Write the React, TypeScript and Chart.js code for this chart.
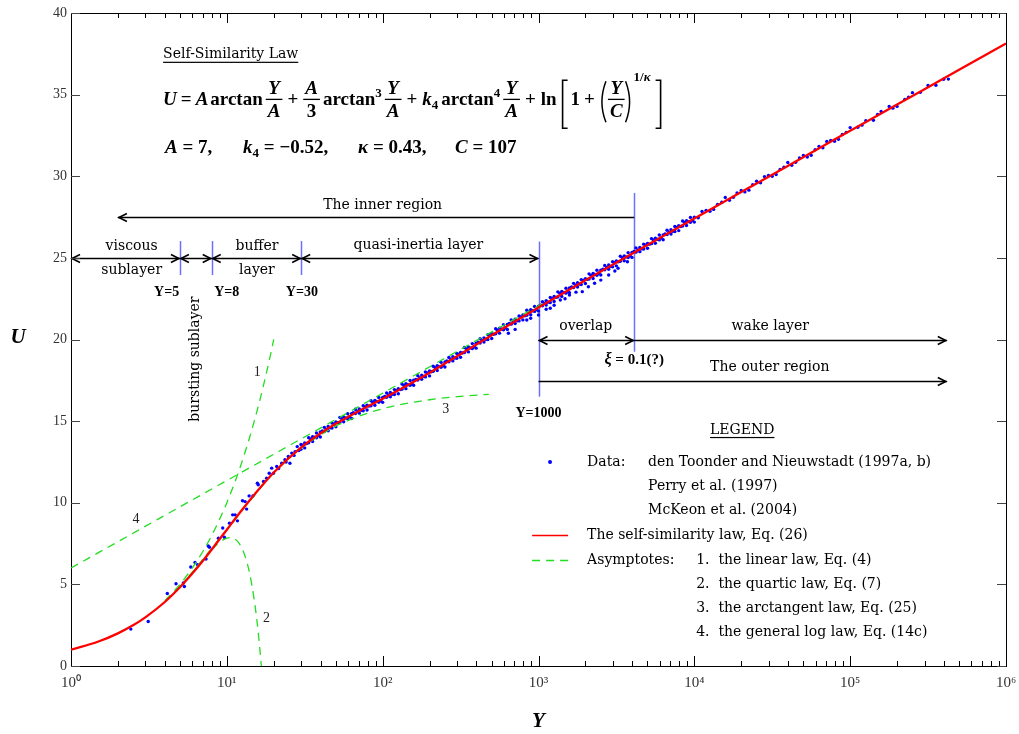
import React, { useEffect, useRef } from 'react';
import { Chart, registerables } from 'chart.js';

Chart.register(...registerables);

// ---------------- data ----------------
// Self-similarity law (red solid curve)
const redY = [1, 1.5, 2, 2.5, 3, 4, 5, 6, 7, 8, 10, 12, 15, 20, 30, 40, 50, 70, 100, 150, 200, 300, 500, 1000, 2000, 5000, 10000, 20000, 50000, 100000, 200000, 500000, 1000000];
const redU = [1.0, 1.5, 2.0, 2.49, 2.98, 3.92, 4.82, 5.66, 6.43, 7.14, 8.35, 9.34, 10.49, 11.85, 13.39, 14.26, 14.84, 15.61, 16.37, 17.29, 17.97, 18.98, 20.26, 21.96, 23.63, 25.79, 27.41, 29.03, 31.17, 32.78, 34.39, 36.52, 38.13];

// Asymptote 1: linear law
const asym1Y = [4, 5, 6, 7, 8, 9, 10, 11, 12, 13, 14, 15, 16, 17, 18, 19, 20];
const asym1U = [4, 5, 6, 7, 8, 9, 10, 11, 12, 13, 14, 15, 16, 17, 18, 19, 20];
// Asymptote 2: quartic law
const asym2Y = [4, 5, 6, 7, 8, 9, 10, 10.5, 11, 12, 13, 14, 15, 15.5, 16, 16.3, 16.65];
const asym2U = [3.94, 4.87, 5.72, 6.48, 7.11, 7.58, 7.83, 7.87, 7.83, 7.51, 6.81, 5.68, 4.04, 3.0, 1.81, 1.01, 0];
// Asymptote 3: arctangent law
const asym3Y = [5, 10, 20, 30, 50, 70, 100, 150, 200, 300, 480];
const asym3U = [4.82, 8.34, 11.83, 13.34, 14.69, 15.29, 15.76, 16.12, 16.31, 16.5, 16.64];
// Asymptote 4: general log law
const asym4Y = [1, 10, 100, 1000, 1100];
const asym4U = [6.0, 11.36, 16.71, 22.07, 22.29];

// Measured data (blue dots)
const dataBufferY = [2.42, 3.13, 4.15, 4.72, 5.26, 5.34, 5.87, 6.25, 6.5, 7.35, 7.6, 7.74, 8.83, 9.41, 9.64, 10.4, 10.9, 11.3, 11.7, 12.6, 13.1, 13.4, 13.9, 14.7, 15.7, 15.9, 17.2, 18.0, 18.7, 19.4, 19.9, 20.9, 21.5, 22.5, 23.6, 24.0, 24.8, 25.4, 26.1, 27.0, 27.4, 28.3, 29.0];
const dataBufferU = [2.26, 2.73, 4.44, 5.04, 5.08, 4.87, 6.06, 6.34, 6.2, 6.55, 7.35, 7.27, 7.83, 8.45, 7.89, 8.75, 9.26, 9.26, 8.89, 10.12, 10.07, 9.61, 10.42, 10.42, 11.2, 11.1, 11.3, 11.5, 11.81, 12.12, 11.81, 12.22, 12.1, 12.42, 12.63, 12.5, 12.83, 12.42, 13.04, 12.9, 13.13, 13.44, 13.2];

const dataBandY = [29.9, 31.6, 33.5, 35.5, 37.6, 39.8, 42.2, 44.7, 47.3, 50.1, 53.1, 56.2, 59.6, 63.1, 66.8, 70.8, 75.0, 79.4, 84.1, 89.1, 94.4, 100, 106, 112, 119, 126, 133, 141, 150, 158, 168, 178, 188, 200, 211, 224, 237, 251, 266, 282, 299, 316, 335, 355, 376, 398, 422, 447, 473, 501, 531, 562, 596, 631, 668, 708, 750, 794, 841, 891, 944, 1000, 1060, 1120, 1190, 1260, 1330, 1410, 1500, 1580, 1680, 1780, 1880, 2000, 2110, 2240, 2370, 2510, 2660, 2820, 2990, 3160, 3350, 3550, 3760, 3980, 4220, 4470, 4730, 5010, 5310, 5620, 5960, 6310, 6680, 7080, 7500, 7940, 8410, 8910, 9440, 10000];
const dataBandUpperU = [13.57, 13.66, 13.98, 14.05, 14.28, 14.33, 14.62, 14.67, 14.88, 14.95, 15.23, 15.26, 15.45, 15.46, 15.73, 15.75, 15.94, 15.98, 16.25, 16.27, 16.45, 16.45, 16.72, 16.75, 16.93, 16.98, 17.27, 17.29, 17.49, 17.5, 17.78, 17.82, 18.01, 18.07, 18.36, 18.4, 18.6, 18.62, 18.9, 18.95, 19.15, 19.21, 19.51, 19.54, 19.75, 19.77, 20.05, 20.1, 20.3, 20.36, 20.66, 20.69, 20.9, 20.92, 21.2, 21.24, 21.44, 21.5, 21.79, 21.82, 22.02, 22.04, 22.32, 22.37, 22.57, 22.63, 22.92, 22.94, 23.14, 23.16, 23.44, 23.48, 23.67, 23.73, 24.02, 24.04, 24.24, 24.25, 24.53, 24.56, 24.76, 24.81, 25.1, 25.12, 25.32, 25.33, 25.61, 25.64, 25.84, 25.89, 26.18, 26.2, 26.4, 26.41, 26.69, 26.72, 26.92, 26.97, 27.26, 27.28, 27.48, 27.49];
const dataBandLowerU = [13.27, 13.36, 13.67, 13.75, 13.98, 14.03, 14.36, 14.41, 14.58, 14.65, 14.92, 14.96, 15.15, 15.16, 15.47, 15.49, 15.64, 15.68, 15.94, 15.97, 16.15, 16.15, 16.46, 16.49, 16.63, 16.68, 16.96, 16.99, 17.19, 17.2, 17.52, 17.56, 17.71, 17.77, 18.05, 18.1, 18.3, 18.32, 18.64, 18.69, 18.85, 18.91, 19.2, 19.24, 19.45, 19.47, 19.79, 19.84, 20.0, 20.06, 20.35, 20.39, 20.6, 20.62, 20.94, 20.98, 21.14, 21.2, 21.48, 21.52, 21.72, 21.74, 22.06, 22.11, 22.27, 22.33, 22.61, 22.64, 22.84, 22.86, 23.18, 23.22, 23.37, 23.43, 23.71, 23.74, 23.94, 23.95, 24.27, 24.3, 24.46, 24.51, 24.79, 24.82, 25.02, 25.03, 25.35, 25.38, 25.54, 25.59, 25.87, 25.9, 26.1, 26.11, 26.43, 26.46, 26.62, 26.67, 26.95, 26.98, 27.18, 27.19];

const dataMidY = [30.7, 32.5, 34.5, 36.5, 38.7, 41.0, 43.4, 46.0, 48.7, 51.6, 54.6, 57.9, 61.3, 64.9, 68.8, 72.9, 77.2, 81.7, 86.6, 91.7, 97.2, 103, 109, 115, 122, 130, 137, 145, 154, 163, 173, 183, 194, 205, 217, 230, 244, 258, 274, 290, 307, 325, 345, 365, 387, 410, 434, 460, 487, 516, 546, 579, 613, 649, 688, 729, 772, 817, 866, 917, 972, 1030, 1090, 1150, 1220, 1300, 1370, 1450, 1540, 1630, 1730, 1830, 1940, 2050, 2170, 2300, 2440, 2590, 2740, 2900, 3070, 3250, 3450, 3650, 3870, 4100, 4340, 4600, 4870, 5160, 5460, 5790, 6130, 6490, 6880, 7290, 7720, 8170, 8660, 9170, 9720];
const dataMidU = [13.53, 13.63, 13.91, 14.01, 14.12, 14.4, 14.51, 14.59, 14.83, 14.9, 15.14, 15.2, 15.27, 15.52, 15.6, 15.66, 15.87, 15.92, 16.16, 16.2, 16.26, 16.51, 16.6, 16.65, 16.87, 16.93, 17.18, 17.23, 17.31, 17.56, 17.66, 17.73, 17.95, 18.02, 18.28, 18.34, 18.42, 18.68, 18.79, 18.86, 19.09, 19.17, 19.42, 19.49, 19.57, 19.83, 19.94, 20.01, 20.24, 20.32, 20.57, 20.64, 20.72, 20.98, 21.08, 21.15, 21.38, 21.45, 21.7, 21.76, 21.84, 22.1, 22.21, 22.28, 22.51, 22.58, 22.83, 22.88, 22.96, 23.22, 23.32, 23.39, 23.61, 23.68, 23.93, 23.98, 24.06, 24.31, 24.41, 24.47, 24.7, 24.76, 25.01, 25.06, 25.14, 25.39, 25.49, 25.55, 25.78, 25.84, 26.09, 26.14, 26.22, 26.47, 26.57, 26.63, 26.86, 26.92, 27.17, 27.22, 27.3];

const dataDipY = [641, 708, 841, 891, 1000, 1120, 1190, 1260, 1380, 1480, 1580, 1740, 1910, 2090, 2290, 2510, 2820, 3090, 3240, 3720];
const dataDipU = [20.38, 20.62, 21.19, 21.3, 21.5, 21.85, 21.91, 22.1, 22.42, 22.5, 22.72, 22.9, 22.93, 23.23, 23.45, 23.64, 23.95, 24.2, 24.36, 24.76];

const dataOuterY = [11200, 12600, 14100, 15800, 17800, 20000, 22400, 25100, 28200, 31600, 35500, 39800, 44700, 50100, 56200, 63100, 70800, 79400, 89100, 100000, 112000, 126000, 141000, 158000, 178000, 200000, 224000, 251000, 282000, 316000, 355000, 398000, 427000];
const dataOuterU = [27.84, 27.86, 28.28, 28.7, 28.71, 29.13, 29.15, 29.69, 29.98, 30.0, 30.42, 30.84, 30.85, 31.27, 31.29, 31.83, 32.13, 32.14, 32.56, 32.98, 33.0, 33.41, 33.43, 33.97, 34.27, 34.28, 34.7, 35.12, 35.14, 35.56, 35.57, 35.94, 35.95];
const dataOuter2Y = [10600, 11900, 13300, 15000, 16800, 18800, 21100, 23700, 26600, 29900, 33500, 37600, 42200, 47300, 53100, 59600, 66800, 75000, 84100, 94400, 119000, 150000, 188000, 237000];
const dataOuter2U = [27.46, 27.91, 27.97, 28.41, 28.53, 28.98, 29.04, 29.48, 29.6, 30.05, 30.11, 30.55, 30.67, 31.12, 31.18, 31.62, 31.74, 32.19, 32.26, 32.69, 33.13, 33.78, 34.17, 34.84];

// Axis ticks
const xMajorTicks = [1, 10, 100, 1000, 10000, 100000, 1000000];
const xTickLabels = ['10\u2070', '10\u00b9', '10\u00b2', '10\u00b3', '10\u2074', '10\u2075', '10\u2076'];
const xMinorFactors = [2, 3, 4, 5, 6, 7, 8, 9];
const yTickValues = [0, 5, 10, 15, 20, 25, 30, 35, 40];

// ---------------- annotations (data coordinates) ----------------
const markerLines = [
  { y: 5, u0: 23.95, u1: 26.03 },
  { y: 8, u0: 23.95, u1: 26.03 },
  { y: 30, u0: 23.95, u1: 26.03 },
  { y: 1000, u0: 16.5, u1: 26.0 },
  { y: 4110, u0: 19.25, u1: 28.98 },
];
const arrows = [
  { y0: 2.0, y1: 4110, u: 27.52, h0: true, h1: false },
  { y0: 1, y1: 5, u: 25.0, h0: true, h1: true },
  { y0: 5, y1: 8, u: 25.0, h0: true, h1: true },
  { y0: 8, y1: 30, u: 25.0, h0: true, h1: true },
  { y0: 30, y1: 1000, u: 25.0, h0: true, h1: true },
  { y0: 1000, y1: 4110, u: 19.97, h0: true, h1: true },
  { y0: 4110, y1: 417000, u: 19.97, h0: false, h1: true },
  { y0: 1000, y1: 417000, u: 17.48, h0: false, h1: true },
];
const regionLabels = [
  { text: 'The inner region', y: 100, u: 28.22 },
  { text: 'viscous', y: 2.45, u: 25.68 },
  { text: 'sublayer', y: 2.45, u: 24.25 },
  { text: 'buffer', y: 15.6, u: 25.68 },
  { text: 'layer', y: 15.6, u: 24.25 },
  { text: 'quasi-inertia layer', y: 169.5, u: 25.75 },
  { text: 'overlap', y: 2010, u: 20.78 },
  { text: 'wake layer', y: 30700, u: 20.78 },
  { text: 'The outer region', y: 30500, u: 18.3 },
];
const boundaryLabels = [
  { text: 'Y=5', y: 4.11, u: 22.9 },
  { text: 'Y=8', y: 9.98, u: 22.9 },
  { text: 'Y=30', y: 30.3, u: 22.9 },
  { text: 'Y=1000', y: 1000, u: 15.45 },
];
const curveLabels = [
  { text: '1', y: 15.7, u: 17.97 },
  { text: '2', y: 18.0, u: 2.89 },
  { text: '3', y: 254, u: 15.73 },
  { text: '4', y: 2.61, u: 9.0 },
];
const legendRowsU = [12.5, 11.03, 9.56, 8.03, 6.5, 5.03, 3.56, 2.09];

const SERIF = '"Liberation Serif", "Times New Roman", serif';
const DSERIF = '"DejaVu Serif", serif';
const GREEN = '#22dd22';
const BLUE = '#0000ff';

const pts = (xs: number[], ys: number[]) => xs.map((x, i) => ({ x, y: ys[i] }));

function drawEquation(ctx: CanvasRenderingContext2D, x0: number, yb: number) {
  const BI = `italic bold 19px ${SERIF}`;
  const B = `bold 19px ${SERIF}`;
  const SUP = `bold 13px ${SERIF}`;
  const SUPI = `italic bold 13px ${SERIF}`;
  ctx.textAlign = 'left';
  ctx.textBaseline = 'alphabetic';
  ctx.fillStyle = '#000';
  ctx.strokeStyle = '#000';
  let x = x0;
  const put = (t: string, f: string, dy = 0) => {
    ctx.font = f;
    ctx.fillText(t, x, yb + dy);
    x += ctx.measureText(t).width;
  };
  const sp = (g: number) => { x += g; };
  const frac = (n: string, nf: string, d: string, df: string) => {
    ctx.font = nf; const w1 = ctx.measureText(n).width;
    ctx.font = df; const w2 = ctx.measureText(d).width;
    const w = Math.max(w1, w2) + 4;
    ctx.font = nf; ctx.fillText(n, x + (w - w1) / 2, yb - 11);
    ctx.font = df; ctx.fillText(d, x + (w - w2) / 2, yb + 12);
    ctx.fillRect(x, yb - 6.5, w, 1.3);
    x += w;
  };
  const bracket = (left: boolean) => {
    ctx.lineWidth = 1.6;
    ctx.beginPath();
    if (left) {
      ctx.moveTo(x + 8, yb - 25); ctx.lineTo(x + 3, yb - 25); ctx.lineTo(x + 3, yb + 23); ctx.lineTo(x + 8, yb + 23);
    } else {
      ctx.moveTo(x + 1, yb - 25); ctx.lineTo(x + 6, yb - 25); ctx.lineTo(x + 6, yb + 23); ctx.lineTo(x + 1, yb + 23);
    }
    ctx.stroke();
    x += 10;
  };
  const paren = (left: boolean) => {
    ctx.lineWidth = 1.5;
    ctx.beginPath();
    if (left) {
      ctx.moveTo(x + 7, yb - 24); ctx.quadraticCurveTo(x - 1, yb - 3, x + 7, yb + 17);
    } else {
      ctx.moveTo(x + 1, yb - 24); ctx.quadraticCurveTo(x + 9, yb - 3, x + 1, yb + 17);
    }
    ctx.stroke();
    x += 9;
  };
  put('U', BI); sp(4); put('=', B); sp(4); put('A', BI); sp(2); put('arctan', B); sp(3);
  frac('Y', BI, 'A', BI); sp(5); put('+', B); sp(5);
  frac('A', BI, '3', B); sp(3); put('arctan', B); put('3', SUP, -8); sp(3);
  frac('Y', BI, 'A', BI); sp(5); put('+', B); sp(5);
  put('k', BI); put('4', SUP, 4); sp(3); put('arctan', B); put('4', SUP, -8); sp(3);
  frac('Y', BI, 'A', BI); sp(5); put('+', B); sp(5);
  put('ln', B); sp(3);
  bracket(true); sp(1);
  put('1', B); sp(4); put('+', B); sp(4);
  paren(true);
  frac('Y', BI, 'C', BI);
  paren(false);
  put('1/', SUP, -24); put('\u03ba', SUPI, -24); sp(4);
  bracket(false);
}

function drawParams(ctx: CanvasRenderingContext2D, x0: number, yb: number) {
  const BI = `italic bold 19px ${SERIF}`;
  const B = `bold 19px ${SERIF}`;
  const SUB = `bold 13px ${SERIF}`;
  ctx.textAlign = 'left';
  ctx.textBaseline = 'alphabetic';
  ctx.fillStyle = '#000';
  const groups: Array<{ off: number; parts: Array<[string, string, number]> }> = [
    { off: 0, parts: [['A', BI, 0], [' = 7,', B, 0]] },
    { off: 78, parts: [['k', BI, 0], ['4', SUB, 4], [' = \u22120.52,', B, 0]] },
    { off: 193, parts: [['\u03ba', BI, 0], [' = 0.43,', B, 0]] },
    { off: 290, parts: [['C', BI, 0], [' = 107', B, 0]] },
  ];
  for (const g of groups) {
    let x = x0 + g.off;
    for (const [t, f, dy] of g.parts) {
      ctx.font = f;
      ctx.fillText(t, x, yb + dy);
      x += ctx.measureText(t).width;
    }
  }
}

const annotPlugin = {
  id: 'annot',
  beforeDatasetsDraw(chart: any) {
    const ctx: CanvasRenderingContext2D = chart.ctx;
    const xs = chart.scales.x, ys = chart.scales.y;
    const X = (v: number) => xs.getPixelForValue(v);
    const P = (v: number) => ys.getPixelForValue(v);
    ctx.save();
    ctx.strokeStyle = '#6f6fff';
    ctx.lineWidth = 1.5;
    for (const l of markerLines) {
      const px = Math.round(X(l.y)) + 0.5;
      ctx.beginPath(); ctx.moveTo(px, P(l.u0)); ctx.lineTo(px, P(l.u1)); ctx.stroke();
    }
    ctx.strokeStyle = '#000';
    ctx.lineWidth = 1.6;
    for (const a of arrows) {
      const x0 = X(a.y0), x1 = X(a.y1), y = Math.round(P(a.u)) + 0.5;
      ctx.beginPath(); ctx.moveTo(x0, y); ctx.lineTo(x1, y); ctx.stroke();
      const L = 9, W = 4;
      if (a.h0) { ctx.beginPath(); ctx.moveTo(x0 + L, y - W); ctx.lineTo(x0 + 1, y); ctx.lineTo(x0 + L, y + W); ctx.stroke(); }
      if (a.h1) { ctx.beginPath(); ctx.moveTo(x1 - L, y - W); ctx.lineTo(x1 - 1, y); ctx.lineTo(x1 - L, y + W); ctx.stroke(); }
    }
    ctx.restore();
  },
  afterDraw(chart: any) {
    const ctx: CanvasRenderingContext2D = chart.ctx;
    const xs = chart.scales.x, ys = chart.scales.y;
    const X = (v: number) => xs.getPixelForValue(v);
    const P = (v: number) => ys.getPixelForValue(v);
    const a = chart.chartArea;
    ctx.save();
    // inward tick marks
    ctx.strokeStyle = '#000';
    ctx.lineWidth = 1;
    const allX: number[] = [];
    for (const m of xMajorTicks) { allX.push(m); if (m < 1000000) for (const f of xMinorFactors) allX.push(m * f); }
    for (const v of allX) {
      const px = Math.round(X(v)) + 0.5;
      const len = xMajorTicks.includes(v) ? 10 : 5;
      ctx.beginPath();
      ctx.moveTo(px, a.bottom); ctx.lineTo(px, a.bottom - len);
      ctx.moveTo(px, a.top); ctx.lineTo(px, a.top + len);
      ctx.stroke();
    }
    ctx.strokeStyle = '#444';
    for (const v of yTickValues) {
      const py = Math.round(P(v)) + 0.5;
      ctx.beginPath();
      ctx.moveTo(a.left, py); ctx.lineTo(a.left + 9, py);
      ctx.moveTo(a.right, py); ctx.lineTo(a.right - 9, py);
      ctx.stroke();
    }

    const txt = (s: string, x: number, y: number, font: string, align: CanvasTextAlign = 'center', color = '#000') => {
      ctx.font = font; ctx.textAlign = align; ctx.textBaseline = 'middle'; ctx.fillStyle = color;
      ctx.fillText(s, x, y);
    };
    const REG = `14px ${DSERIF}`;
    for (const l of regionLabels) txt(l.text, X(l.y), P(l.u), REG);
    for (const l of boundaryLabels) txt(l.text, X(l.y), P(l.u), `bold 14px ${SERIF}`);
    for (const l of curveLabels) txt(l.text, X(l.y), P(l.u), `14px ${SERIF}`, 'center', '#222');

    // xi label
    {
      ctx.font = `italic bold 16px ${SERIF}`;
      const w1 = ctx.measureText('\u03be').width;
      ctx.font = `bold 15px ${SERIF}`;
      const w2 = ctx.measureText(' = 0.1(?)').width;
      const cx = X(4110), cy = P(18.75);
      const sx = cx - (w1 + w2) / 2;
      txt('\u03be', sx, cy, `italic bold 16px ${SERIF}`, 'left');
      txt(' = 0.1(?)', sx + w1, cy, `bold 15px ${SERIF}`, 'left');
    }

    // bursting sublayer (rotated)
    ctx.save();
    ctx.translate(X(6.25), P(18.8));
    ctx.rotate(-Math.PI / 2);
    txt('bursting sublayer', 0, 0, REG);
    ctx.restore();

    // title block
    {
      const x0 = X(3.9);
      ctx.font = `14px ${DSERIF}`;
      ctx.textAlign = 'left'; ctx.textBaseline = 'alphabetic'; ctx.fillStyle = '#000';
      const yT = P(37.26);
      ctx.fillText('Self-Similarity Law', x0, yT);
      const w = ctx.measureText('Self-Similarity Law').width;
      ctx.fillRect(x0, yT + 4, w, 1.2);
      drawEquation(ctx, x0, P(34.35));
      drawParams(ctx, x0 + 2, P(31.44));
    }

    // legend
    {
      const LEG = `14px ${DSERIF}`;
      const cx = X(20300), cy = P(14.46);
      txt('LEGEND', cx, cy, LEG);
      ctx.font = LEG;
      const w = ctx.measureText('LEGEND').width;
      ctx.fillRect(cx - w / 2, cy + 7, w, 1.2);
      const xs0 = X(910), xs1 = X(1549), xc = X(1186);
      const xt1 = X(2050), xt2 = X(5050), xt3 = X(10280);
      ctx.fillStyle = BLUE;
      ctx.beginPath(); ctx.arc(xc, P(legendRowsU[0]), 2, 0, Math.PI * 2); ctx.fill();
      txt('Data:', xt1, P(legendRowsU[0]), LEG, 'left');
      txt('den Toonder and Nieuwstadt (1997a, b)', xt2, P(legendRowsU[0]), LEG, 'left');
      txt('Perry et al. (1997)', xt2, P(legendRowsU[1]), LEG, 'left');
      txt('McKeon et al. (2004)', xt2, P(legendRowsU[2]), LEG, 'left');
      ctx.strokeStyle = '#ff0000'; ctx.lineWidth = 1.5;
      ctx.beginPath(); ctx.moveTo(xs0, Math.round(P(legendRowsU[3])) + 0.5); ctx.lineTo(xs1, Math.round(P(legendRowsU[3])) + 0.5); ctx.stroke();
      txt('The self-similarity law, Eq. (26)', xt1, P(legendRowsU[3]), LEG, 'left');
      ctx.strokeStyle = GREEN; ctx.lineWidth = 1.3; ctx.setLineDash([8, 6]);
      ctx.beginPath(); ctx.moveTo(xs0, Math.round(P(legendRowsU[4])) + 0.5); ctx.lineTo(xs1, Math.round(P(legendRowsU[4])) + 0.5); ctx.stroke();
      ctx.setLineDash([]);
      txt('Asymptotes:', xt1, P(legendRowsU[4]), LEG, 'left');
      txt('1.  the linear law, Eq. (4)', xt3, P(legendRowsU[4]), LEG, 'left');
      txt('2.  the quartic law, Eq. (7)', xt3, P(legendRowsU[5]), LEG, 'left');
      txt('3.  the arctangent law, Eq. (25)', xt3, P(legendRowsU[6]), LEG, 'left');
      txt('4.  the general log law, Eq. (14c)', xt3, P(legendRowsU[7]), LEG, 'left');
    }

    // y axis title
    txt('U', a.left - 53, P(20.1), `italic bold 21px ${SERIF}`);
    ctx.restore();
  },
};

const bgPlugin = {
  id: 'bg',
  beforeDraw(chart: any) {
    const ctx = chart.ctx;
    ctx.save();
    ctx.fillStyle = '#ffffff';
    ctx.fillRect(0, 0, chart.width, chart.height);
    ctx.restore();
  },
};

export default function App() {
  const ref = useRef<HTMLCanvasElement>(null);
  useEffect(() => {
    const canvas = ref.current!;
    const dataPoints = [
      ...pts(dataBufferY, dataBufferU),
      ...pts(dataBandY, dataBandUpperU),
      ...pts(dataBandY, dataBandLowerU),
      ...pts(dataMidY, dataMidU),
      ...pts(dataDipY, dataDipU),
      ...pts(dataOuterY, dataOuterU),
      ...pts(dataOuter2Y, dataOuter2U),
    ];
    const greenLine = (xs: number[], ys: number[]) => ({
      data: pts(xs, ys),
      showLine: true,
      borderColor: GREEN,
      borderWidth: 1.3,
      borderDash: [8, 6],
      pointRadius: 0,
      cubicInterpolationMode: 'monotone' as const,
      tension: 0.4,
      order: 2,
    });
    const chart = new Chart(canvas, {
      type: 'scatter',
      data: {
        datasets: [
          {
            data: dataPoints,
            showLine: false,
            pointRadius: 1.7,
            pointBackgroundColor: BLUE,
            pointBorderColor: BLUE,
            pointBorderWidth: 0,
            order: 3,
          } as any,
          greenLine(asym1Y, asym1U) as any,
          greenLine(asym2Y, asym2U) as any,
          greenLine(asym3Y, asym3U) as any,
          greenLine(asym4Y, asym4U) as any,
          {
            data: pts(redY, redU),
            showLine: true,
            borderColor: '#ff0000',
            borderWidth: 2.3,
            pointRadius: 0,
            cubicInterpolationMode: 'monotone',
            tension: 0.4,
            order: 1,
          } as any,
        ],
      },
      options: {
        responsive: false,
        animation: false,
        devicePixelRatio: 1,
        events: [],
        layout: { padding: 0 },
        plugins: { legend: { display: false }, tooltip: { enabled: false } },
        scales: {
          x: {
            type: 'logarithmic',
            position: 'bottom',
            min: 1,
            max: 1000000,
            afterFit: (s: any) => { s.height = 68; s.paddingLeft = 0; s.paddingRight = 0; },
            afterBuildTicks: (s: any) => {
              s.ticks = xMajorTicks.map((v) => ({ value: v, major: true }));
            },
            ticks: {
              autoSkip: false,
              maxRotation: 0,
              padding: 8,
              color: '#333',
              font: { family: 'Liberation Serif', size: 15 },
              callback: (v: any) => {
                const i = xMajorTicks.indexOf(Number(v));
                return i >= 0 ? xTickLabels[i] : '';
              },
            },
            grid: { display: false, drawTicks: false },
            border: { display: true, color: '#000', width: 1 },
            title: {
              display: true,
              text: 'Y',
              padding: { top: 0, bottom: 0 },
              font: { family: 'Liberation Serif', size: 21, style: 'italic', weight: 'bold' },
              color: '#000',
            },
          } as any,
          x2: {
            type: 'logarithmic',
            axis: 'x',
            position: 'top',
            min: 1,
            max: 1000000,
            afterFit: (s: any) => { s.height = 13; s.paddingLeft = 0; s.paddingRight = 0; },
            ticks: { display: false },
            grid: { display: false, drawTicks: false },
            border: { display: true, color: '#000', width: 1 },
          } as any,
          y: {
            type: 'linear',
            position: 'left',
            min: 0,
            max: 40,
            afterFit: (s: any) => { s.width = 71; s.paddingTop = 0; s.paddingBottom = 0; },
            ticks: {
              stepSize: 5,
              padding: 4,
              color: '#333',
              font: { family: 'Liberation Serif', size: 14 },
            },
            grid: { display: false, drawTicks: false },
            border: { display: true, color: '#000', width: 1 },
          } as any,
          y2: {
            type: 'linear',
            axis: 'y',
            position: 'right',
            min: 0,
            max: 40,
            afterFit: (s: any) => { s.width = 13; s.paddingTop = 0; s.paddingBottom = 0; },
            ticks: { display: false },
            grid: { display: false, drawTicks: false },
            border: { display: true, color: '#000', width: 1 },
          } as any,
        },
      },
      plugins: [bgPlugin, annotPlugin],
    });
    return () => chart.destroy();
  }, []);
  return (
    <canvas
      ref={ref}
      width={1019}
      height={734}
      style={{ position: 'absolute', left: 0, top: 0, width: '1019px', height: '734px' }}
    />
  );
}
